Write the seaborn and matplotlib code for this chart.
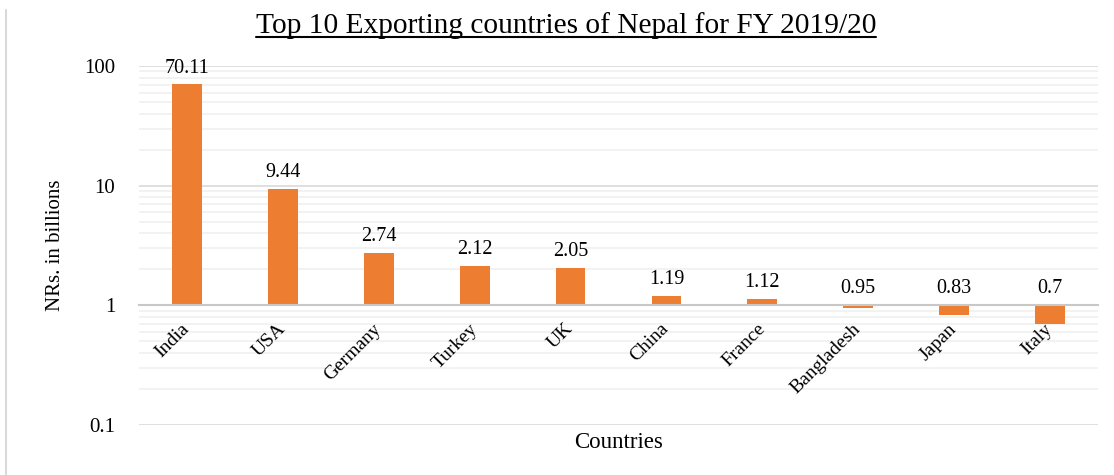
import matplotlib
matplotlib.use("Agg")
import matplotlib.pyplot as plt
import matplotlib.ticker as mticker
from matplotlib.lines import Line2D
import seaborn as sns
import pandas as pd

countries = ["India", "USA", "Germany", "Turkey", "UK", "China", "France",
             "Bangladesh", "Japan", "Italy"]
values = [70.11, 9.44, 2.74, 2.12, 2.05, 1.19, 1.12, 0.95, 0.83, 0.7]
value_labels = ["70.11", "9.44", "2.74", "2.12", "2.05", "1.19", "1.12",
                "0.95", "0.83", "0.7"]
y_ticks = [0.1, 1, 10, 100]
title = "Top 10 Exporting countries of Nepal for FY 2019/20"
x_title = "Countries"
y_title = "NRs. in billions"

sns.set_theme(style="white")
plt.rcParams["font.family"] = ["Liberation Serif", "DejaVu Serif"]

BAR = "#ED7D31"
df = pd.DataFrame({"country": countries, "value": values})

fig = plt.figure(figsize=(11.14, 4.75), dpi=100)
ax = fig.add_axes([0.1248, 0.1053, 0.8608, 0.7557])

sns.barplot(data=df, x="country", y="value", color=BAR, width=0.31,
            linewidth=0, saturation=1, ax=ax, zorder=3)

# Log axis crossing at 1 (bars grow from 1)
for patch, v in zip(ax.patches, values):
    patch.set_y(min(v, 1))
    patch.set_height(abs(v - 1))

ax.set_yscale("log")
ax.set_ylim(0.1, 100)
ax.set_xlim(-0.5, len(countries) - 0.5)
ax.set_yticks(y_ticks)
ax.yaxis.set_major_formatter(mticker.FuncFormatter(lambda v, p: f"{v:g}"))
ax.yaxis.set_minor_locator(mticker.LogLocator(base=10, subs=range(2, 10)))
ax.yaxis.set_minor_formatter(mticker.NullFormatter())

ax.yaxis.grid(True, which="major", color="#D9D9D9", lw=1.2, zorder=0)
ax.yaxis.grid(True, which="minor", color="#F0F0F0", lw=1.2, zorder=0)
ax.xaxis.grid(False)
ax.set_axisbelow(True)

for s in ["left", "right", "top"]:
    ax.spines[s].set_visible(False)
ax.spines["bottom"].set_position(("data", 1))
ax.spines["bottom"].set_color("#C8C8C8")
ax.spines["bottom"].set_linewidth(1.5)
ax.spines["bottom"].set_zorder(4)

ax.tick_params(axis="both", which="both", length=0)
ax.tick_params(axis="y", labelsize=15, pad=17, colors="black")
ax.tick_params(axis="x", labelsize=14, pad=15, colors="black")
ax.set_xticks(range(len(countries)))
ax.set_xticklabels(countries, rotation=45, ha="right", va="center",
                   rotation_mode="anchor")
ax.xaxis.set_zorder(5)

for i, (v, lab) in enumerate(zip(values, value_labels)):
    top = max(v, 1)
    ax.annotate(lab, (i, top), xytext=(0, 5), textcoords="offset points",
                ha="center", va="bottom", fontsize=14.5, color="black")

ax.set_xlabel(x_title, fontsize=16.5, color="black")
ax.xaxis.set_label_coords(0.5, -0.02)
ax.set_ylabel(y_title, fontsize=15, color="black", labelpad=14)

t = fig.text(0.508, 0.947, title, ha="center", va="center", fontsize=21.2,
             color="black")

# chart border on left
fig.add_artist(Line2D([0.0055, 0.0055], [0.0, 0.98], transform=fig.transFigure,
                      color="#D9D9D9", lw=1.5))

fig.canvas.draw()
bb = t.get_window_extent().transformed(fig.transFigure.inverted())
fig.add_artist(Line2D([bb.x0, bb.x1], [bb.y0 + 0.003, bb.y0 + 0.003],
                      transform=fig.transFigure, color="black", lw=1.5))

fig.savefig("out.png", dpi=100, facecolor="white")
